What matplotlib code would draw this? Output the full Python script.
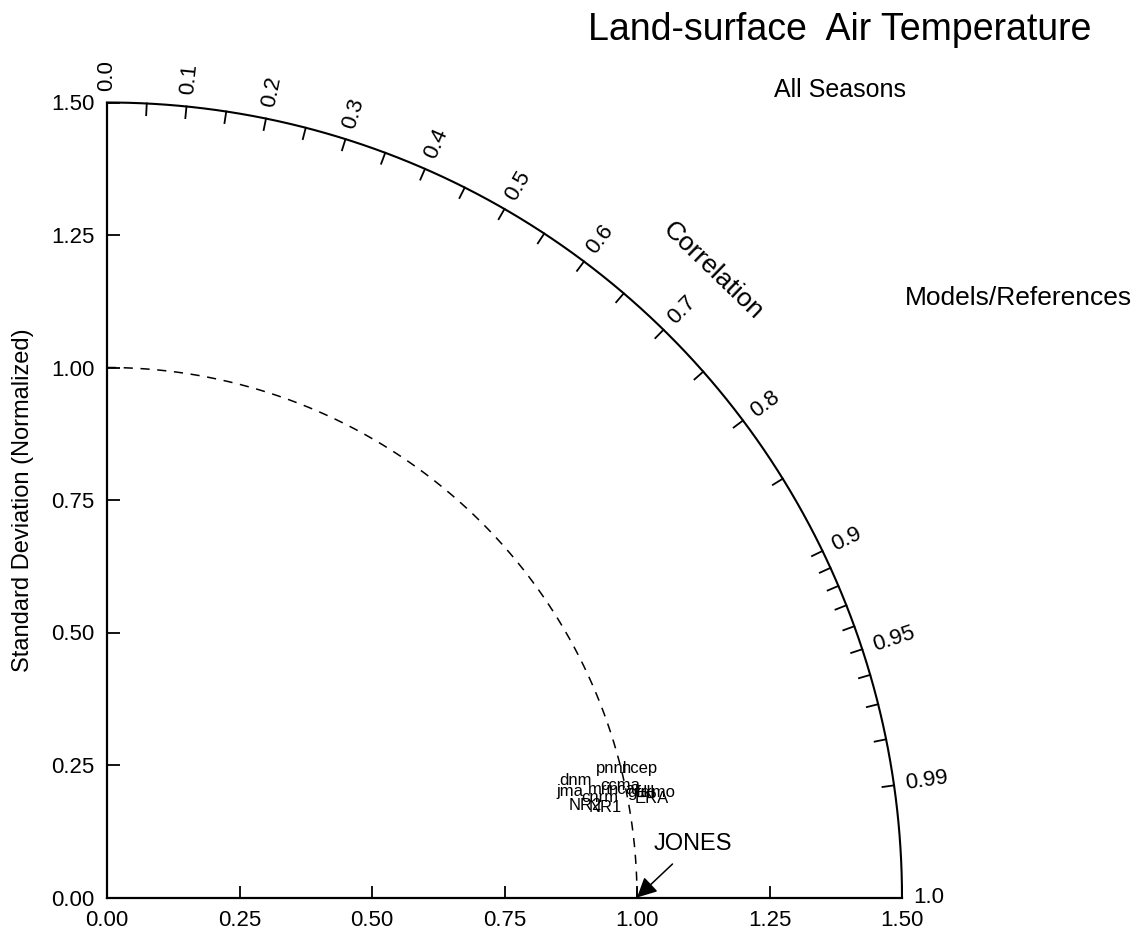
import numpy as np
import matplotlib
matplotlib.use("Agg")
import matplotlib.pyplot as plt

plt.rcParams['font.family'] = ['Liberation Sans', 'DejaVu Sans']

# normalized standard deviation and correlation for each dataset
models = ["dnm", "jma", "mri", "NR2", "NR1", "pnnl", "ncep",
          "ccma", "gfdl", "ukmo", "ERA", "cnrm", "ncar"]
model_std = [0.911, 0.896, 0.952, 0.919, 0.955, 0.983, 1.035,
             0.991, 1.026, 1.053, 1.045, 0.949, 0.998]
model_corr = [0.970, 0.975, 0.977, 0.982, 0.984, 0.969, 0.972,
              0.977, 0.981, 0.982, 0.984, 0.980, 0.979]

ref_name = "JONES"
ref_std = 1.0
ref_corr = 1.0

std_max = 1.5
std_ticks = [0.0, 0.25, 0.5, 0.75, 1.0, 1.25, 1.5]
corr_labels = [0.0, 0.1, 0.2, 0.3, 0.4, 0.5, 0.6, 0.7, 0.8, 0.9, 0.95, 0.99, 1.0]
corr_minor = list(np.round(np.arange(0.0, 0.9, 0.05), 2)) + \
    list(np.round(np.arange(0.9, 1.0, 0.01), 2)) + [1.0]

fig = plt.figure(figsize=(11.48, 9.32), dpi=100)
ax = fig.add_axes([107/1148, 34/932, 795/1148, 796/932])
ax.set_xlim(0, std_max)
ax.set_ylim(0, std_max)
ax.set_aspect('equal')
for s in ['top', 'right']:
    ax.spines[s].set_visible(False)
for s in ['left', 'bottom']:
    ax.spines[s].set_linewidth(1.6)
ax.set_xticks(std_ticks)
ax.set_yticks(std_ticks)
ax.set_xticklabels(["%.2f" % v for v in std_ticks])
ax.set_yticklabels(["%.2f" % v for v in std_ticks])
ax.tick_params(direction='in', length=9, width=1.3, labelsize=16, pad=9)
ax.set_ylabel("Standard Deviation (Normalized)", fontsize=17, labelpad=12)

# outer correlation arc
th = np.linspace(0, np.pi/2, 400)
ax.plot(std_max*np.cos(th), std_max*np.sin(th), color='black', lw=1.5, clip_on=False)
# reference std arc
ax.plot(ref_std*np.cos(th), ref_std*np.sin(th), color='black', lw=1.1, ls=(0, (6, 5)))

# correlation ticks along the arc
tick_len = 0.022
for c in corr_minor:
    t = np.arccos(c)
    ax.plot([std_max*np.cos(t), (std_max - tick_len)*np.cos(t)],
            [std_max*np.sin(t), (std_max - tick_len)*np.sin(t)],
            color='black', lw=1.3, clip_on=False)
for c in corr_labels:
    t = np.arccos(c)
    r = std_max + 0.022
    lab = "%g" % c if c not in (0.0, 1.0) else "%.1f" % c
    ax.text(r*np.cos(t), r*np.sin(t), lab, rotation=np.degrees(t),
            rotation_mode='anchor', ha='left', va='center', fontsize=16)

ang = np.radians(46)
ax.text(1.645*np.cos(ang), 1.645*np.sin(ang), "Correlation", rotation=-44,
        rotation_mode='anchor', ha='center', va='center', fontsize=19)

# dataset labels used as markers
for name, s, c in zip(models, model_std, model_corr):
    t = np.arccos(c)
    ax.text(s*np.cos(t), s*np.sin(t), name, ha='center', va='center', fontsize=12)

# reference point
t = np.arccos(ref_corr)
ax.annotate(ref_name, xy=(ref_std*np.cos(t), ref_std*np.sin(t)),
            xytext=(1.106, 0.100), ha='center', va='center', fontsize=17,
            arrowprops=dict(arrowstyle='-|>', color='black', lw=1.1,
                            mutation_scale=30, shrinkA=6, shrinkB=0))

fig.text(0.731, 0.968, "Land-surface  Air Temperature", ha='center', va='center', fontsize=27)
fig.text(0.732, 0.903, "All Seasons", ha='center', va='center', fontsize=18)
fig.text(0.887, 0.680, "Models/References", ha='center', va='center', fontsize=19)

fig.savefig("out.png", dpi=100)
